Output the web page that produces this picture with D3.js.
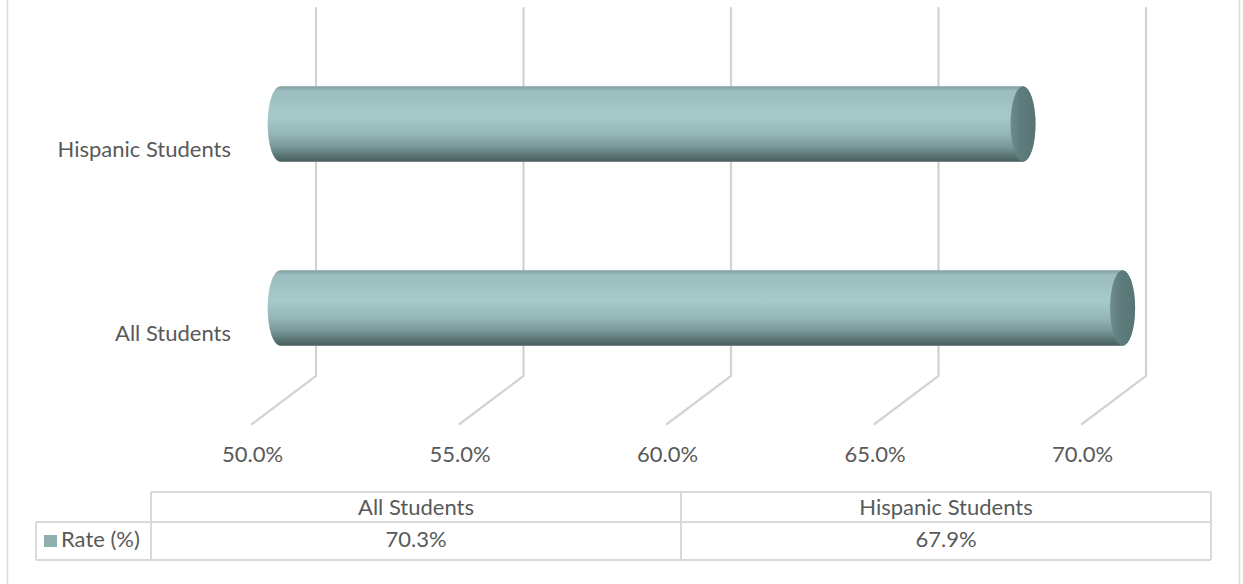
<!DOCTYPE html>
<html>
<head>
<meta charset="utf-8">
<script src="https://cdn.jsdelivr.net/npm/d3@7"></script>
<style>
  html, body { margin: 0; padding: 0; background: #fff; }
  svg { display: block; }
  text { font-family: Lato, "Open Sans", sans-serif; fill: #595959; }
</style>
</head>
<body>
<svg id="chart" width="1243" height="584"></svg>
<script>
// Graduation rate by student group
const categories = ["All Students", "Hispanic Students"];
const rates = [70.3, 67.9];
const tickValues = [50, 55, 60, 65, 70];
const seriesName = "Rate (%)";

const W = 1243, H = 584;
const FONT = "22px";
const svg = d3.select("#chart");

// Oblique 3D projection: back wall is shifted right/up from the front plane
const depth = { dx: 64, dy: -48 };
// Bars sit a little in front of mid-depth
const barDepth = 0.44;

// Front-plane scales
const x = d3.scaleLinear().domain([50, 70]).range([252, 1082]);
const y = d3.scaleBand().domain(categories).range([424, 56]);
const floorY = y.range()[0];

const fmt = d => d.toFixed(1) + "%";

// Outer chart border
svg.append("rect")
  .attr("x", 7.5).attr("y", -2).attr("width", 1232).attr("height", H + 10)
  .attr("fill", "none").attr("stroke", "#d9d9d9").attr("stroke-width", 1.5);

// Gradients for the cylinders
const defs = svg.append("defs");
const body = defs.append("linearGradient").attr("id", "cylBody")
  .attr("x1", 0).attr("y1", 0).attr("x2", 0).attr("y2", 1);
[[0, "#7f9f9f"], [0.06, "#9bbdbd"], [0.4, "#a6c9c9"], [0.62, "#96b8b8"],
 [0.8, "#799999"], [0.93, "#587171"], [1, "#495e5e"]]
  .forEach(([o, c]) => body.append("stop").attr("offset", o).attr("stop-color", c));
const cap = defs.append("linearGradient").attr("id", "cylCap")
  .attr("x1", 0).attr("y1", 0).attr("x2", 1).attr("y2", 0);
[[0, "#6f8d8e"], [0.35, "#607e7f"], [1, "#587475"]]
  .forEach(([o, c]) => cap.append("stop").attr("offset", o).attr("stop-color", c));

// Gridlines: vertical on the back wall, diagonal across the floor
const grid = svg.append("g").attr("stroke", "#d3d3d3").attr("stroke-width", 2.2)
  .attr("fill", "none").attr("stroke-linecap", "round");
tickValues.forEach(t => {
  const bx = x(t) + depth.dx, by = floorY + depth.dy;
  grid.append("path")
    .attr("d", `M${bx},${y.range()[1] + depth.dy} L${bx},${by} L${x(t)},${floorY}`);
});

// Value axis labels
const xAxis = svg.append("g").attr("transform", `translate(0,${floorY + 38})`)
  .call(d3.axisBottom(x).tickValues(tickValues).tickFormat(fmt).tickSize(0).tickPadding(0));
xAxis.select(".domain").remove();
xAxis.selectAll("text").attr("dy", null).attr("y", 0)
  .style("font-size", FONT).style("font-family", "Lato, sans-serif").attr("fill", "#595959");

// Category axis labels
const yAxis = svg.append("g").attr("transform", "translate(231,0)")
  .call(d3.axisLeft(y).tickSize(0).tickPadding(0));
yAxis.select(".domain").remove();
yAxis.selectAll("text").attr("dy", "0.42em")
  .style("font-size", FONT).style("font-family", "Lato, sans-serif").attr("fill", "#595959");

// Cylinder bars
const barH = y.bandwidth() * 0.41;
const ry = barH / 2, rx = 12.5;
const bars = svg.append("g");
categories.forEach((c, i) => {
  const cy = y(c) + y.bandwidth() / 2 + depth.dy / 2;
  const xl = x(50) + depth.dx * barDepth;
  const xr = x(rates[i]) + depth.dx * barDepth;
  const yt = cy - ry, yb = cy + ry;
  bars.append("path")
    .attr("d", `M${xl},${yt} L${xr},${yt} A${rx},${ry} 0 0 1 ${xr},${yb} L${xl},${yb} A${rx},${ry} 0 0 1 ${xl},${yt} Z`)
    .attr("fill", "url(#cylBody)");
  bars.append("ellipse")
    .attr("cx", xr).attr("cy", cy).attr("rx", rx).attr("ry", ry)
    .attr("fill", "url(#cylCap)");
});

// Data table below the chart
const col = d3.scaleBand().domain(categories).range([151, 1211]);
const hdrTop = 492, rowTop = 522, rowBot = 560, labelLeft = 36;
const tbl = svg.append("g");
const line = (x1, y1, x2, y2) => tbl.append("line")
  .attr("x1", x1).attr("y1", y1).attr("x2", x2).attr("y2", y2)
  .attr("stroke", "#d9d9d9").attr("stroke-width", 2);
line(col.range()[0], hdrTop, col.range()[1], hdrTop);
line(labelLeft, rowTop, col.range()[1], rowTop);
line(labelLeft, rowBot, col.range()[1], rowBot);
line(labelLeft, rowTop, labelLeft, rowBot);
categories.forEach(c => line(col(c), hdrTop, col(c), rowBot));
line(col.range()[1], hdrTop, col.range()[1], rowBot);

categories.forEach((c, i) => {
  tbl.append("text").attr("x", col(c) + col.bandwidth() / 2).attr("y", 514.5)
    .attr("text-anchor", "middle").style("font-size", FONT).text(c);
  tbl.append("text").attr("x", col(c) + col.bandwidth() / 2).attr("y", 547)
    .attr("text-anchor", "middle").style("font-size", FONT).text(fmt(rates[i]));
});

// Legend key in the table
tbl.append("rect").attr("x", 44).attr("y", 535).attr("width", 13).attr("height", 12)
  .attr("fill", "#8fafaf");
tbl.append("text").attr("x", 61).attr("y", 547).style("font-size", FONT).text(seriesName);
</script>
</body>
</html>
